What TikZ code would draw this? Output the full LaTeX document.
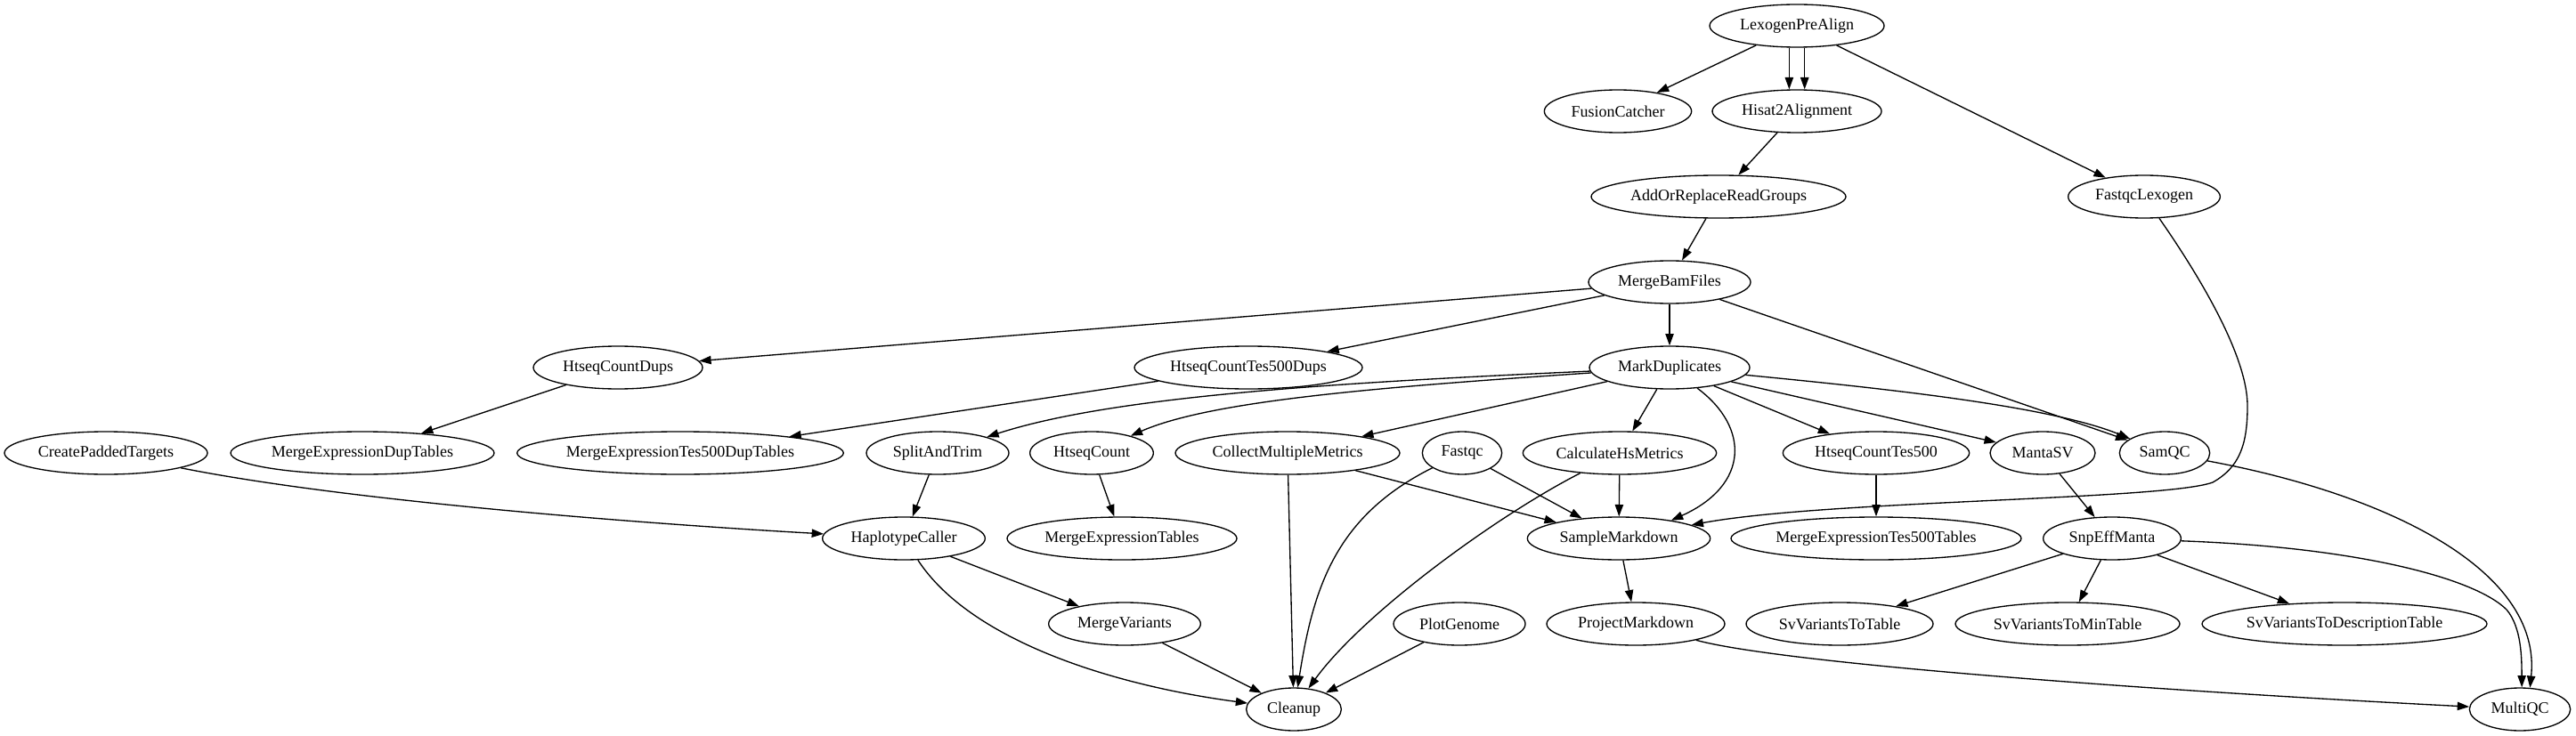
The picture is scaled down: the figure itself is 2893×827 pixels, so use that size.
\documentclass[tikz,border=0pt]{standalone}
\usepackage{fontspec}
\setmainfont{Liberation Serif}
\usetikzlibrary{shapes.geometric,arrows.meta}
\begin{document}
\begin{tikzpicture}[x=0.75pt,y=-0.75pt,
  nd/.style={draw,ellipse,line width=1pt,inner sep=0pt,minimum height=36pt,
    font=\fontsize{13.5pt}{16pt}\selectfont},
  edge/.style={line width=1pt,-{Triangle[length=10pt,width=7pt]}}]
\useasboundingbox (0,0) rectangle (2893,827);
% rank 0
\node[nd,minimum width=147pt] (Lex) at (2018,29) {LexogenPreAlign};
% rank 1
\node[nd,minimum width=124pt] (Fusion) at (1817,125) {FusionCatcher};
\node[nd,minimum width=142.5pt] (Hisat) at (2018,125) {Hisat2Alignment};
% rank 2
\node[nd,minimum width=214.5pt] (AddOr) at (1930,221) {AddOrReplaceReadGroups};
\node[nd,minimum width=128pt] (FastqcLex) at (2408,221) {FastqcLexogen};
% rank 3
\node[nd,minimum width=136.5pt] (MergeBam) at (1875,317) {MergeBamFiles};
% rank 4
\node[nd,minimum width=142.5pt] (HtseqDups) at (694,413) {HtseqCountDups};
\node[nd,minimum width=192pt] (HtseqTesDups) at (1402,413) {HtseqCountTes500Dups};
\node[nd,minimum width=135pt] (MarkDup) at (1875,413) {MarkDuplicates};
% rank 5
\node[nd,minimum width=171pt] (CreatePadded) at (119,509) {CreatePaddedTargets};
\node[nd,minimum width=222pt] (MEDupT) at (407,509) {MergeExpressionDupTables};
\node[nd,minimum width=275pt] (METesDupT) at (764,509) {MergeExpressionTes500DupTables};
\node[nd,minimum width=120pt] (Split) at (1053,509) {SplitAndTrim};
\node[nd,minimum width=104pt] (HtseqCount) at (1226,509) {HtseqCount};
\node[nd,minimum width=189pt] (CMM) at (1446,509) {CollectMultipleMetrics};
\node[nd,minimum width=67pt] (Fastqc) at (1642,509) {Fastqc};
\node[nd,minimum width=163pt] (CalcHs) at (1819,509) {CalculateHsMetrics};
\node[nd,minimum width=157pt] (HtseqTes) at (2107,509) {HtseqCountTes500};
\node[nd,minimum width=88.5pt] (Manta) at (2294,509) {MantaSV};
\node[nd,minimum width=76pt] (SamQC) at (2431,509) {SamQC};
% rank 6
\node[nd,minimum width=137pt] (Haplo) at (1015,605) {HaplotypeCaller};
\node[nd,minimum width=193.5pt] (METables) at (1260,605) {MergeExpressionTables};
\node[nd,minimum width=154pt] (SampleMd) at (1818,605) {SampleMarkdown};
\node[nd,minimum width=244.5pt] (METesT) at (2107,605) {MergeExpressionTes500Tables};
\node[nd,minimum width=116pt] (SnpEff) at (2372,605) {SnpEffManta};
% rank 7
\node[nd,minimum width=128pt] (MergeVar) at (1263,701) {MergeVariants};
\node[nd,minimum width=111pt] (PlotGenome) at (1639,701) {PlotGenome};
\node[nd,minimum width=150pt] (ProjectMd) at (1837,701) {ProjectMarkdown};
\node[nd,minimum width=157.5pt] (SvTable) at (2066,701) {SvVariantsToTable};
\node[nd,minimum width=189pt] (SvMin) at (2322,701) {SvVariantsToMinTable};
\node[nd,minimum width=240pt] (SvDesc) at (2633,701) {SvVariantsToDescriptionTable};
% rank 8
\node[nd,minimum width=80pt] (Cleanup) at (1453,797) {Cleanup};
\node[nd,minimum width=85pt] (MultiQC) at (2830,797) {MultiQC};

% edges
\draw[edge] (Lex) -- (Fusion);
\draw[edge] ([xshift=-6.5pt]Lex.south) -- ([xshift=-6.5pt]Hisat.north);
\draw[edge] ([xshift=6.5pt]Lex.south) -- ([xshift=6.5pt]Hisat.north);
\draw[edge] (Lex) -- (FastqcLex);
\draw[edge] (Hisat) -- (AddOr);
\draw[edge] (AddOr) -- (MergeBam);
\draw[edge] (FastqcLex) .. controls (2470,310) and (2524,400) .. (2524,456)
   .. controls (2524,500) and (2515,525) .. (2485,542)
   .. controls (2430,562) and (2050,562) .. (SampleMd);
\draw[edge] (MergeBam) -- (HtseqDups);
\draw[edge] (MergeBam) -- (HtseqTesDups);
\draw[edge] (MergeBam) -- (MarkDup);
\draw[edge] (MergeBam) -- (SamQC);
\draw[edge] (HtseqDups) -- (MEDupT);
\draw[edge] (HtseqTesDups) -- (METesDupT);
\draw[edge] (MarkDup) .. controls (1500,430) and (1250,445) .. (Split);
\draw[edge] (MarkDup) .. controls (1550,435) and (1360,450) .. (HtseqCount);
\draw[edge] (MarkDup) -- (CMM);
\draw[edge] (MarkDup) -- (CalcHs);
\draw[edge] (MarkDup) .. controls (1965,480) and (1965,545) .. (SampleMd.19);
\draw[edge] (MarkDup) -- (HtseqTes);
\draw[edge] (MarkDup) -- (Manta);
\draw[edge] (MarkDup) .. controls (2100,435) and (2300,455) .. (SamQC);
\draw[edge] (CreatePadded) .. controls (400,565) and (750,590) .. (Haplo);
\draw[edge] (Split) -- (Haplo);
\draw[edge] (HtseqCount) -- (METables);
\draw[edge] (CMM) -- (Cleanup);
\draw[edge] (CMM) -- (SampleMd);
\draw[edge] (Fastqc) .. controls (1500,580) and (1475,660) .. (Cleanup.80);
\draw[edge] (Fastqc) -- (SampleMd);
\draw[edge] (CalcHs) .. controls (1680,580) and (1530,690) .. (Cleanup.55);
\draw[edge] (CalcHs) -- (SampleMd);
\draw[edge] (HtseqTes) -- (METesT);
\draw[edge] (Manta) -- (SnpEff);
\draw[edge] (SamQC) .. controls (2680,555) and (2855,640) .. (MultiQC.65);
\draw[edge] (Haplo) -- (MergeVar);
\draw[edge] (Haplo) .. controls (1090,720) and (1250,770) .. (Cleanup);
\draw[edge] (SampleMd) -- (ProjectMd);
\draw[edge] (SnpEff) -- (SvTable);
\draw[edge] (SnpEff) -- (SvMin);
\draw[edge] (SnpEff) -- (SvDesc);
\draw[edge] (SnpEff) .. controls (2650,615) and (2780,650) .. (2815,685)
   .. controls (2832,705) and (2832,740) .. (MultiQC.85);
\draw[edge] (MergeVar) -- (Cleanup);
\draw[edge] (PlotGenome) -- (Cleanup);
\draw[edge] (ProjectMd) .. controls (2000,745) and (2400,775) .. (MultiQC);
\end{tikzpicture}
\end{document}
